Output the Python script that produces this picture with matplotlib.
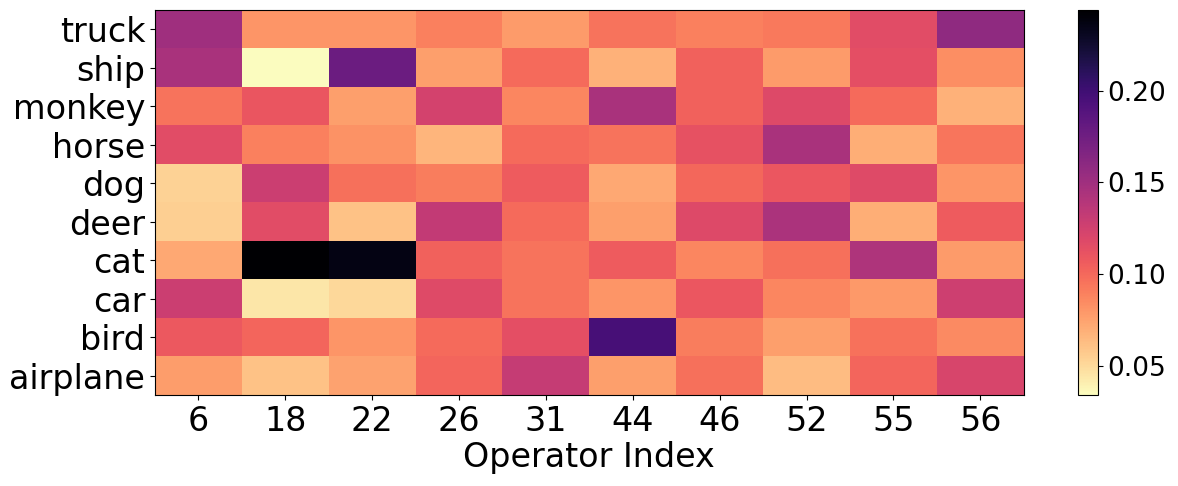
import matplotlib
matplotlib.use("Agg")
import matplotlib.pyplot as plt
import numpy as np

# ---------- Data ----------
classes = ["truck", "ship", "monkey", "horse", "dog", "deer", "cat", "car", "bird", "airplane"]
operators = [6, 18, 22, 26, 31, 44, 46, 52, 55, 56]

truck    = [0.150, 0.080, 0.080, 0.089, 0.078, 0.095, 0.089, 0.093, 0.116, 0.158]
ship     = [0.145, 0.034, 0.177, 0.076, 0.099, 0.068, 0.103, 0.078, 0.114, 0.084]
monkey   = [0.095, 0.110, 0.076, 0.124, 0.087, 0.145, 0.103, 0.118, 0.099, 0.068]
horse    = [0.116, 0.089, 0.082, 0.066, 0.099, 0.095, 0.112, 0.145, 0.070, 0.094]
dog      = [0.053, 0.128, 0.097, 0.091, 0.107, 0.072, 0.101, 0.109, 0.117, 0.080]
deer     = [0.055, 0.116, 0.061, 0.133, 0.099, 0.076, 0.118, 0.144, 0.070, 0.107]
cat      = [0.072, 0.244, 0.236, 0.103, 0.095, 0.107, 0.087, 0.097, 0.143, 0.078]
car      = [0.128, 0.044, 0.051, 0.117, 0.095, 0.080, 0.109, 0.087, 0.079, 0.127]
bird     = [0.108, 0.102, 0.080, 0.099, 0.114, 0.196, 0.091, 0.076, 0.096, 0.085]
airplane = [0.077, 0.061, 0.075, 0.102, 0.131, 0.076, 0.097, 0.063, 0.102, 0.121]

grid = np.array([truck, ship, monkey, horse, dog, deer, cat, car, bird, airplane])

# ---------- Plot ----------
fig = plt.figure(figsize=(11.78, 4.86), dpi=100)
ax = fig.add_axes([0.1316, 0.187, 0.7374, 0.792])
cax = fig.add_axes([0.915, 0.187, 0.017, 0.792])

im = ax.imshow(grid, cmap="magma_r", aspect="auto", interpolation="nearest")

ax.set_xticks(range(len(operators)))
ax.set_xticklabels([str(o) for o in operators], fontsize=24)
ax.set_yticks(range(len(classes)))
ax.set_yticklabels(classes, fontsize=24)
ax.set_xlabel("Operator Index", fontsize=24, labelpad=2)

cbar = fig.colorbar(im, cax=cax)
cbar.set_ticks([0.05, 0.10, 0.15, 0.20])
cbar.ax.tick_params(labelsize=19)

fig.savefig("out.png", dpi=100)
